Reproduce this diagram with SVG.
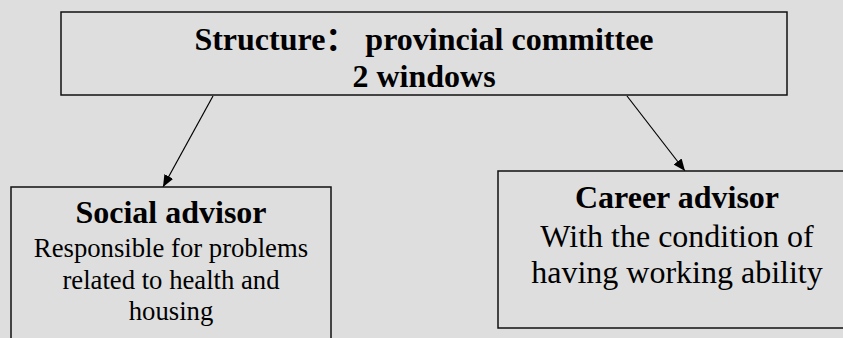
<svg xmlns="http://www.w3.org/2000/svg" width="843" height="338" viewBox="0 0 843 338">
<defs>
<style>
.box{fill:#dedede;stroke:#111;stroke-width:1.5}
.t{font-family:"Liberation Serif","Noto Sans CJK SC",serif;fill:#000;text-anchor:middle}
.b{font-weight:bold;font-size:32px}
.r{font-size:32px}
.s{font-size:26.7px}
.c{stroke:#000;stroke-width:1.2;fill:none}
</style>
<marker id="ah" markerUnits="userSpaceOnUse" markerWidth="12" markerHeight="10" viewBox="0 0 12 10" refX="12" refY="5" orient="auto">
<path d="M0,0 L12,5 L0,10 Z" fill="#000"/>
</marker>
</defs>
<rect width="843" height="338" fill="#dedede"/>
<g id="connectors">
<line class="c" x1="213" y1="96" x2="163" y2="187" marker-end="url(#ah)"/>
<line class="c" x1="627" y1="96" x2="685" y2="171" marker-end="url(#ah)"/>
</g>
<g id="structure">
<rect class="box" x="61" y="12" width="726" height="83"/>
<text class="t b" x="424" y="50" xml:space="preserve">Structure： provincial committee</text>
<text class="t b" x="424" y="87">2 windows</text>
</g>
<g id="social">
<rect class="box" x="11" y="187" width="320" height="170"/>
<text class="t b" x="171" y="223">Social advisor</text>
<text class="t s" x="171" y="257">Responsible for problems</text>
<text class="t s" x="171" y="289">related to health and</text>
<text class="t s" x="171" y="320">housing</text>
</g>
<g id="career">
<rect class="box" x="498" y="171" width="358" height="157"/>
<text class="t b" x="677" y="208">Career advisor</text>
<text class="t r" x="677" y="247">With the condition of</text>
<text class="t r" x="677" y="283">having working ability</text>
</g>
</svg>
